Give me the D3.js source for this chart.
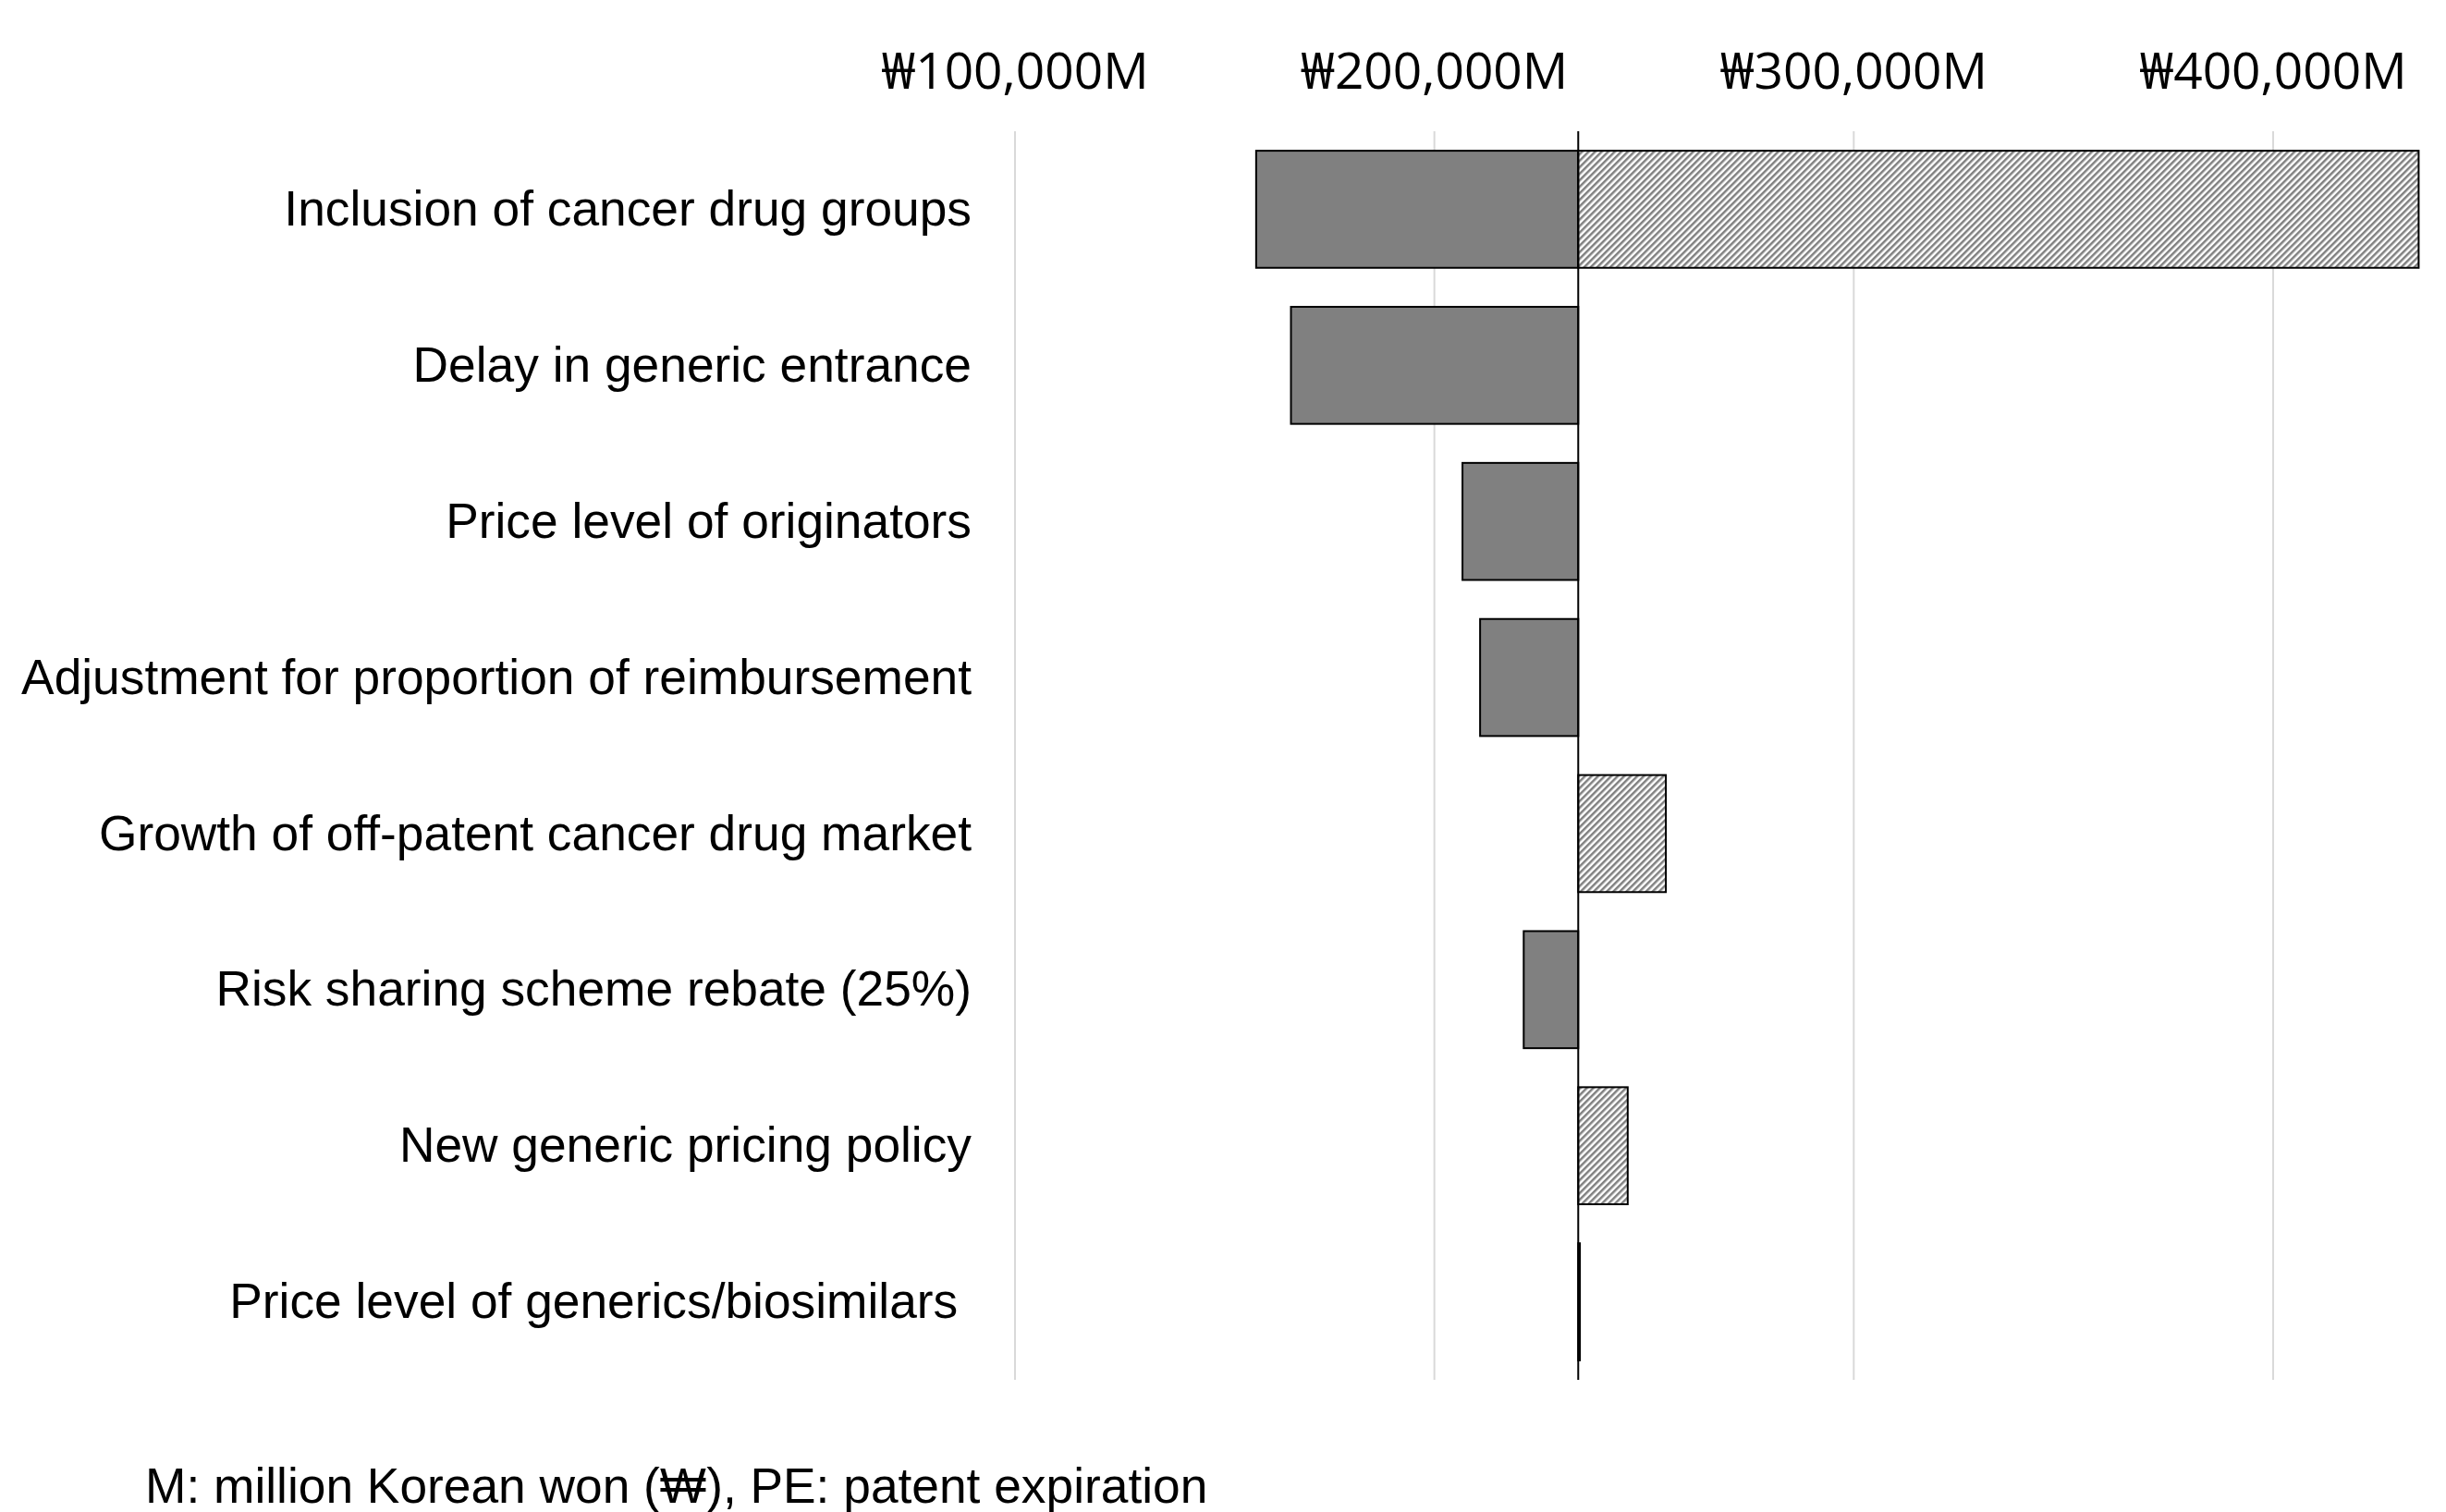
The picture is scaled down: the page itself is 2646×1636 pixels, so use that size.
<!DOCTYPE html>
<html>
<head>
<meta charset="utf-8">
<script src="https://cdn.jsdelivr.net/npm/d3@7"></script>
<style>
  body { margin: 0; background: #fff; }
  svg { display: block; }
</style>
</head>
<body>
<div id="chart-area"></div>
<script>
// Tornado chart data (million KRW)
const categories = [
    "Inclusion of cancer drug groups",
    "Delay in generic entrance",
    "Price level of originators",
    "Adjustment for proportion of reimbursement",
    "Growth of off-patent cancer drug market",
    "Risk sharing scheme rebate (25%)",
    "New generic pricing policy",
    "Price level of generics/biosimilars "
];
const baseValue = 234300;
const lowValues = [157500, 165800, 206700, 210900, 234300, 221300, 234300, 234300];
const highValues = [434700, 234300, 234300, 234300, 255200, 234300, 246100, 234700];
const tickValues = [100000, 200000, 300000, 400000];
const footnote = "M: million Korean won (\u20A9), PE: patent expiration";

const width = 2646, height = 1636;
const margin = { top: 142, bottom: 143, left: 1098 };

const svg = d3.select('#chart-area').append('svg')
    .attr('width', width)
    .attr('height', height);

// hatch pattern for the upper side
const defs = svg.append('defs');
defs.append('pattern')
    .attr('id', 'hatch')
    .attr('patternUnits', 'userSpaceOnUse')
    .attr('width', 5)
    .attr('height', 5)
    .attr('patternTransform', 'rotate(45)')
    .call(p => {
        p.append('rect').attr('width', 5).attr('height', 5).attr('fill', '#fff');
        p.append('line')
            .attr('x1', 1.25).attr('y1', 0)
            .attr('x2', 1.25).attr('y2', 5)
            .attr('stroke', '#808080')
            .attr('stroke-width', 2.5);
    });

const xScale = d3.scaleLinear().domain([100000, 400000]).range([1098, 2459]);
const yScale = d3.scaleBand().domain(categories)
    .range([margin.top, height - margin.bottom])
    .paddingInner(0.25).paddingOuter(0.125);

const y0 = margin.top, y1 = height - margin.bottom;

// gridlines
svg.selectAll('.grid')
    .data(tickValues)
    .enter().append('line')
    .attr('class', 'grid')
    .attr('x1', d => xScale(d)).attr('x2', d => xScale(d))
    .attr('y1', y0).attr('y2', y1)
    .attr('stroke', '#d9d9d9')
    .attr('stroke-width', 2);

// tick labels on top
svg.selectAll('.tick-label')
    .data(tickValues)
    .enter().append('text')
    .attr('class', 'tick-label')
    .attr('x', d => xScale(d))
    .attr('y', 96)
    .attr('text-anchor', 'middle')
    .style('font-family', '"Open Sans", "Noto Sans", sans-serif')
    .style('font-size', '55px')
    .attr('fill', '#000')
    .text(d => '\u20A9' + d3.format(',')(d) + 'M');

// lower side bars (solid gray)
svg.selectAll('.bar-low')
    .data(categories.filter((c, i) => lowValues[i] < baseValue))
    .enter().append('rect')
    .attr('class', 'bar-low')
    .attr('x', d => xScale(lowValues[categories.indexOf(d)]))
    .attr('y', d => yScale(d))
    .attr('width', d => xScale(baseValue) - xScale(lowValues[categories.indexOf(d)]))
    .attr('height', yScale.bandwidth())
    .attr('fill', '#808080')
    .attr('stroke', '#000')
    .attr('stroke-width', 2);

// upper side bars (hatched)
svg.selectAll('.bar-high')
    .data(categories.filter((c, i) => highValues[i] > baseValue))
    .enter().append('rect')
    .attr('class', 'bar-high')
    .attr('x', xScale(baseValue))
    .attr('y', d => yScale(d))
    .attr('width', d => xScale(highValues[categories.indexOf(d)]) - xScale(baseValue))
    .attr('height', yScale.bandwidth())
    .attr('fill', 'url(#hatch)')
    .attr('stroke', '#000')
    .attr('stroke-width', 2);

// base case line
svg.append('line')
    .attr('x1', xScale(baseValue)).attr('x2', xScale(baseValue))
    .attr('y1', y0).attr('y2', y1)
    .attr('stroke', '#000')
    .attr('stroke-width', 2);

// category labels
svg.selectAll('.cat-label')
    .data(categories)
    .enter().append('text')
    .attr('class', 'cat-label')
    .attr('x', 1051)
    .attr('y', d => yScale(d) + yScale.bandwidth() / 2)
    .attr('dy', '0.33em')
    .attr('text-anchor', 'end')
    .style('white-space', 'pre')
    .style('font-family', '"Liberation Sans", Arial, sans-serif')
    .style('font-size', '53.3px')
    .attr('fill', '#000')
    .text(d => d);

// footnote
svg.append('text')
    .attr('x', 157)
    .attr('y', 1626)
    .style('font-family', '"Liberation Sans", Arial, sans-serif')
    .style('font-size', '53.3px')
    .attr('fill', '#000')
    .text(footnote);
</script>
</body>
</html>
